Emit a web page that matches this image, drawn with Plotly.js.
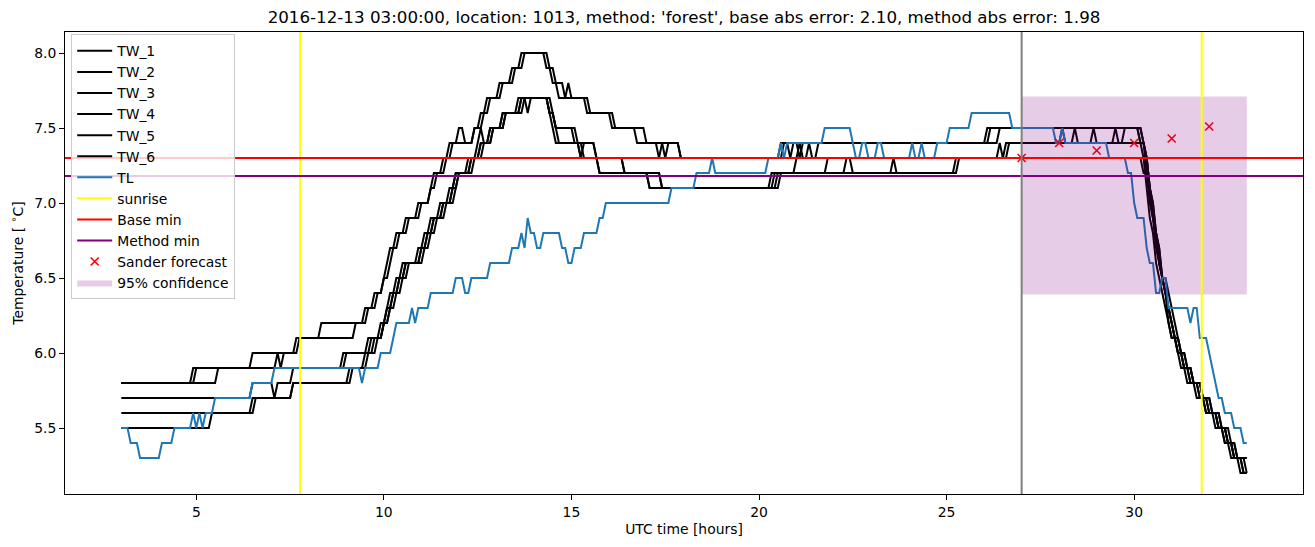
<!DOCTYPE html>
<html><head><meta charset="utf-8">
<script src="https://cdn.plot.ly/plotly-3.0.1.min.js"></script>
<style>html,body{margin:0;padding:0;background:#fff}#chart{width:1315px;height:547px}</style>
</head><body><div id="chart"></div>
<script>
// ---- data (hours UTC, temperature in deg C) ----
const chartTitle = "2016-12-13 03:00:00, location: 1013, method: 'forest', base abs error: 2.10, method abs error: 1.98";
const sampleStartH = 3, sampleEndH = 33, samplesPerHour = 12;
// each series: [hour at which the reading changes, new reading]
const TW_1 = [[3.0,5.8],[4.92,5.9],[6.5,6.0],[7.67,6.1],[8.33,6.2],[9.5,6.3],[9.75,6.4],[10.0,6.5],[10.08,6.6],[10.17,6.7],[10.33,6.8],[10.58,6.9],[10.92,7.0],[11.25,7.1],[11.33,7.2],[11.58,7.3],[11.75,7.4],[12.0,7.5],[12.17,7.4],[12.42,7.5],[12.58,7.6],[12.75,7.7],[13.08,7.8],[13.42,7.9],[13.67,8.0],[14.33,7.9],[14.5,7.8],[14.67,7.7],[15.42,7.6],[16.08,7.5],[16.75,7.4],[17.33,7.3],[17.42,7.4],[17.92,7.3],[20.58,7.4],[26.08,7.5],[30.17,7.4],[30.25,7.3],[30.33,7.1],[30.42,6.9],[30.5,6.8],[30.58,6.6],[30.67,6.5],[30.75,6.4],[30.83,6.3],[30.92,6.2],[31.0,6.1],[31.17,6.0],[31.25,5.9],[31.42,5.8],[31.67,5.7],[31.92,5.6],[32.17,5.5],[32.42,5.4],[32.58,5.3]];
const TW_2 = [[3.0,5.8],[5.0,5.9],[7.17,6.0],[7.25,5.9],[7.33,6.0],[7.75,6.1],[9.25,6.2],[9.58,6.3],[9.83,6.4],[10.0,6.5],[10.17,6.6],[10.25,6.7],[10.42,6.8],[10.67,6.9],[11.0,7.0],[11.25,7.1],[11.42,7.2],[11.67,7.3],[11.83,7.4],[12.42,7.5],[12.67,7.6],[12.83,7.7],[13.17,7.8],[13.5,7.9],[13.75,8.0],[14.42,7.9],[14.58,7.8],[14.83,7.7],[14.92,7.8],[15.0,7.7],[15.5,7.6],[16.17,7.5],[17.0,7.4],[17.5,7.3],[17.58,7.4],[17.92,7.3],[20.67,7.4],[20.83,7.3],[20.92,7.4],[21.08,7.3],[21.17,7.4],[26.42,7.5],[30.25,7.4],[30.33,7.2],[30.42,7.0],[30.5,6.9],[30.58,6.7],[30.67,6.6],[30.75,6.5],[30.83,6.4],[30.92,6.3],[31.0,6.2],[31.08,6.1],[31.25,6.0],[31.33,5.9],[31.5,5.8],[31.75,5.7],[32.0,5.6],[32.25,5.5],[32.5,5.4],[32.67,5.3],[32.92,5.2]];
const TW_3 = [[3.0,5.8],[5.58,5.9],[8.92,6.0],[9.58,6.1],[9.92,6.2],[10.08,6.3],[10.17,6.4],[10.33,6.5],[10.5,6.6],[10.92,6.7],[11.08,6.8],[11.25,6.9],[11.5,7.0],[11.75,7.1],[11.92,7.2],[12.25,7.3],[12.5,7.4],[12.58,7.5],[12.67,7.4],[12.83,7.5],[13.17,7.6],[13.58,7.7],[14.42,7.6],[14.5,7.5],[14.58,7.4],[15.25,7.3],[15.33,7.4],[15.67,7.3],[15.75,7.2],[17.08,7.1],[20.33,7.2],[21.83,7.3],[26.42,7.4],[26.5,7.3],[26.58,7.4],[28.08,7.5],[28.17,7.4],[28.42,7.5],[28.5,7.4],[28.92,7.5],[29.0,7.4],[29.5,7.5],[29.58,7.4],[29.75,7.5],[30.17,7.4],[30.33,7.3],[30.42,7.1],[30.5,7.0],[30.58,6.8],[30.67,6.7],[30.75,6.5],[30.83,6.4],[30.92,6.3],[31.0,6.2],[31.08,6.1],[31.17,6.0],[31.33,5.9],[31.58,5.8],[31.83,5.7],[32.08,5.6],[32.33,5.5],[32.5,5.4],[32.75,5.3],[32.92,5.2]];
const TW_4 = [[3.0,5.7],[6.5,5.8],[7.08,5.7],[7.17,5.8],[7.58,5.9],[9.0,6.0],[9.67,6.1],[10.0,6.2],[10.08,6.3],[10.25,6.4],[10.42,6.5],[10.58,6.6],[11.0,6.7],[11.17,6.8],[11.33,6.9],[11.58,7.0],[11.83,7.1],[12.0,7.2],[12.33,7.3],[12.58,7.4],[12.83,7.5],[13.17,7.6],[13.67,7.7],[13.83,7.6],[13.92,7.7],[14.42,7.6],[14.58,7.5],[15.08,7.4],[15.25,7.3],[16.42,7.2],[17.42,7.1],[20.42,7.2],[22.33,7.3],[22.5,7.2],[25.25,7.3],[30.25,7.2],[30.42,7.1],[30.5,6.9],[30.58,6.8],[30.67,6.7],[30.75,6.5],[30.83,6.4],[30.92,6.3],[31.0,6.2],[31.08,6.1],[31.25,6.0],[31.42,5.9],[31.58,5.8],[31.83,5.7],[32.08,5.6],[32.33,5.5],[32.58,5.4],[32.75,5.3]];
const TW_5 = [[3.0,5.6],[6.5,5.7],[7.58,5.8],[9.08,5.9],[9.5,6.0],[9.75,6.1],[10.0,6.2],[10.17,6.3],[10.25,6.4],[10.42,6.5],[10.58,6.6],[11.0,6.7],[11.17,6.8],[11.33,6.9],[11.58,7.0],[11.83,7.1],[11.92,7.2],[12.33,7.3],[12.58,7.4],[12.92,7.5],[13.25,7.6],[13.67,7.7],[14.5,7.6],[14.58,7.5],[14.67,7.4],[15.67,7.3],[15.75,7.2],[17.08,7.1],[20.5,7.2],[23.58,7.3],[23.67,7.2],[25.33,7.3],[26.67,7.4],[30.33,7.3],[30.42,7.1],[30.5,7.0],[30.58,6.8],[30.67,6.6],[30.75,6.5],[30.83,6.4],[30.92,6.2],[31.0,6.1],[31.17,6.0],[31.33,5.9],[31.5,5.8],[31.75,5.7],[31.92,5.6],[32.25,5.5],[32.42,5.4],[32.67,5.3],[32.83,5.2]];
const TW_6 = [[3.0,5.5],[5.42,5.6],[6.58,5.7],[7.58,5.8],[9.17,5.9],[9.58,6.0],[9.83,6.1],[10.0,6.2],[10.17,6.3],[10.33,6.4],[10.5,6.5],[10.67,6.6],[11.08,6.7],[11.25,6.8],[11.42,6.9],[11.67,7.0],[11.92,7.1],[12.0,7.2],[12.42,7.3],[12.67,7.4],[12.92,7.5],[13.25,7.6],[13.75,7.7],[14.42,7.6],[14.58,7.5],[15.17,7.4],[15.33,7.3],[16.42,7.2],[17.42,7.1],[20.58,7.2],[21.0,7.3],[21.08,7.4],[21.17,7.3],[21.33,7.4],[21.42,7.3],[21.58,7.4],[26.17,7.5],[30.25,7.4],[30.33,7.3],[30.42,7.1],[30.5,6.9],[30.58,6.8],[30.67,6.6],[30.75,6.5],[30.92,6.4],[31.0,6.3],[31.08,6.2],[31.17,6.1],[31.25,6.0],[31.42,5.9],[31.58,5.8],[31.83,5.7],[32.0,5.6],[32.25,5.5],[32.5,5.4],[32.67,5.3],[33.0,5.2]];
const TL = [[3.0,5.5],[3.25,5.4],[3.5,5.3],[4.08,5.4],[4.42,5.5],[4.92,5.6],[5.0,5.5],[5.08,5.6],[5.17,5.5],[5.25,5.6],[5.5,5.7],[6.5,5.8],[7.08,5.9],[9.42,5.8],[9.5,5.9],[9.92,6.0],[10.25,6.1],[10.33,6.2],[10.75,6.3],[10.83,6.2],[10.92,6.3],[11.25,6.4],[11.92,6.5],[12.17,6.4],[12.33,6.5],[12.83,6.6],[13.42,6.7],[13.67,6.8],[13.75,6.7],[13.83,6.9],[13.92,6.8],[14.08,6.7],[14.25,6.8],[14.75,6.7],[14.92,6.6],[15.08,6.7],[15.33,6.8],[15.75,6.9],[15.92,7.0],[17.67,7.1],[18.33,7.2],[18.75,7.3],[18.83,7.2],[20.25,7.3],[20.58,7.4],[20.67,7.3],[20.75,7.4],[21.75,7.5],[22.5,7.4],[22.58,7.3],[22.75,7.4],[22.92,7.3],[23.17,7.4],[23.33,7.3],[24.08,7.4],[24.17,7.3],[24.33,7.4],[24.42,7.3],[24.75,7.4],[25.08,7.5],[25.67,7.6],[26.75,7.5],[27.92,7.4],[28.08,7.5],[28.17,7.4],[29.33,7.3],[29.83,7.2],[30.0,7.0],[30.08,6.9],[30.33,6.7],[30.42,6.6],[30.58,6.4],[30.75,6.5],[30.92,6.3],[31.5,6.2],[31.58,6.3],[31.75,6.1],[32.0,6.0],[32.08,5.9],[32.17,5.8],[32.25,5.7],[32.42,5.6],[32.67,5.5],[32.92,5.4]];
const sunriseH = [7.77, 31.8];
const baseMin = 7.30;
const methodMin = 7.18;
const forecastStartH = 27;
const sanderH = [27, 28, 29, 30, 31, 32];
const sanderV = [7.30, 7.40, 7.35, 7.40, 7.43, 7.51];
const confH = [27, 33];
const confLo = 6.39, confHi = 7.71;
const twNames = ['TW_1','TW_2','TW_3','TW_4','TW_5','TW_6'];
const twData = [TW_1, TW_2, TW_3, TW_4, TW_5, TW_6];

// expand change list into 5-minute samples
function expand(changes){
  const xs = [], ys = [];
  const n = Math.round((sampleEndH - sampleStartH) * samplesPerHour);
  let k = 0;
  for (let i = 0; i <= n; i++){
    const t = sampleStartH + i / samplesPerHour;
    while (k + 1 < changes.length && changes[k + 1][0] <= t + 0.02) k++;
    xs.push(t); ys.push(changes[k][1]);
  }
  return {x: xs, y: ys};
}

const FONT = 'DejaVu Sans, sans-serif';
const FS = 13.9;
const traces = [];
twData.forEach((d, i) => {
  const e = expand(d);
  traces.push({x: e.x, y: e.y, type: 'scatter', mode: 'lines', name: twNames[i],
    line: {color: '#000000', width: 2}, hoverinfo: 'skip'});
});
const tl = expand(TL);
traces.push({x: tl.x, y: tl.y, type: 'scatter', mode: 'lines', name: 'TL', line: {color: '#1f77b4', width: 2}});
traces.push({x: [null], y: [null], type: 'scatter', mode: 'lines', name: 'sunrise', line: {color: '#ffff00', width: 2}});
traces.push({x: [null], y: [null], type: 'scatter', mode: 'lines', name: 'Base min', line: {color: '#ff0000', width: 2}});
traces.push({x: [null], y: [null], type: 'scatter', mode: 'lines', name: 'Method min', line: {color: '#800080', width: 2}});
traces.push({x: sanderH, y: sanderV, type: 'scatter', mode: 'markers', name: 'Sander forecast',
  marker: {symbol: 'x-thin', size: 8, color: '#ff0000', line: {color: '#ff0000', width: 1.6}}});
traces.push({x: [confH[0], confH[1], confH[1], confH[0], confH[0]], y: [confLo, confLo, confHi, confHi, confLo],
  type: 'scatter', mode: 'lines', fill: 'toself', name: '95% confidence',
  fillcolor: 'rgba(128,0,128,0.2)', line: {width: 0, color: 'rgba(0,0,0,0)'}});

const shapes = [];
sunriseH.forEach(h => shapes.push({type: 'line', xref: 'x', yref: 'paper', x0: h, x1: h, y0: 0, y1: 1,
  line: {color: '#ffff00', width: 2}, layer: 'above'}));
shapes.push({type: 'line', xref: 'paper', yref: 'y', x0: 0, x1: 1, y0: baseMin, y1: baseMin, line: {color: '#ff0000', width: 2}, layer: 'above'});
shapes.push({type: 'line', xref: 'paper', yref: 'y', x0: 0, x1: 1, y0: methodMin, y1: methodMin, line: {color: '#800080', width: 2}, layer: 'above'});
shapes.push({type: 'line', xref: 'x', yref: 'paper', x0: forecastStartH, x1: forecastStartH, y0: 0, y1: 1, line: {color: '#808080', width: 2}, layer: 'above'});

const axisCommon = {showline: true, linecolor: '#000', linewidth: 1, mirror: true, ticks: 'outside',
  ticklen: 5, tickwidth: 1, tickcolor: '#000', showgrid: false, zeroline: false,
  tickfont: {family: FONT, size: FS, color: '#000'}};

const layout = {
  width: 1315, height: 547,
  margin: {l: 65, r: 12, t: 32, b: 53},
  paper_bgcolor: '#fff', plot_bgcolor: '#fff',
  font: {family: FONT, color: '#000', size: FS},
  title: {text: chartTitle, font: {family: FONT, size: 16.7, color: '#000'}, x: 0.5, xref: 'paper', y: 1 - 17/547, yref: 'container', yanchor: 'middle'},
  xaxis: Object.assign({}, axisCommon, {range: [1.5, 34.5], tick0: 0, dtick: 5,
    title: {text: 'UTC time [hours]', font: {family: FONT, size: FS}, standoff: 5}}),
  yaxis: Object.assign({}, axisCommon, {range: [5.06, 8.14], tick0: 0, dtick: 0.5, tickformat: '.1f',
    title: {text: 'Temperature [ <sup>∘</sup>C]', font: {family: FONT, size: FS}, standoff: 7}}),
  legend: {x: 0.005, y: 0.995, xanchor: 'left', yanchor: 'top', bgcolor: 'rgba(255,255,255,0.8)',
    bordercolor: '#cccccc', borderwidth: 1, font: {family: FONT, size: FS, color: '#000'}, itemwidth: 35,
    tracegroupgap: 0},
  shapes: shapes,
  showlegend: true
};
Plotly.newPlot('chart', traces, layout, {displayModeBar: false, staticPlot: true});
</script>
</body></html>
